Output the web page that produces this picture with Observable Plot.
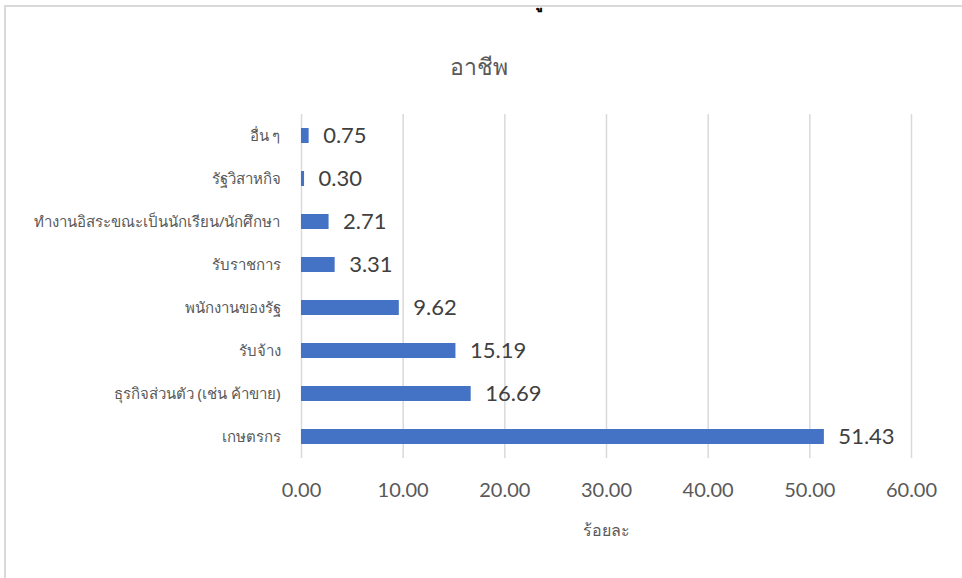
<!DOCTYPE html>
<html>
<head>
<meta charset="utf-8">
<script src="https://cdn.jsdelivr.net/npm/d3@7"></script>
<script src="https://cdn.jsdelivr.net/npm/@observablehq/plot@0.6"></script>
<style>
  html, body { margin: 0; padding: 0; background: #fff; }
  #wrap { position: relative; width: 962px; height: 578px; overflow: hidden; }
  #frame { position: absolute; left: 4px; top: 5px; width: 970px; height: 600px;
           border-left: 2px solid #d9d9d9; border-top: 2px solid #d9d9d9; }
  #glyph { position: absolute; left: 543px; top: -14px; font: bold 18px "Noto Sans", sans-serif; color: #000; }
  #chart { position: absolute; left: 0; top: 0; }
</style>
</head>
<body>
<div id="wrap">
  <div id="frame"></div>
  <div id="glyph">ู</div>
  <div id="chart"></div>
</div>
<script>
const title = "อาชีพ";
const xLabel = "ร้อยละ";
const categories = [
  "อื่น ๆ",
  "รัฐวิสาหกิจ",
  "ทำงานอิสระขณะเป็นนักเรียน/นักศึกษา",
  "รับราชการ",
  "พนักงานของรัฐ",
  "รับจ้าง",
  "ธุรกิจส่วนตัว (เช่น ค้าขาย)",
  "เกษตรกร"
];
const values = [0.75, 0.30, 2.71, 3.31, 9.62, 15.19, 16.69, 51.43];
const xTicks = [0, 10, 20, 30, 40, 50, 60];

const data = categories.map((c, i) => ({category: c, value: values[i]}));
const fmt = d3.format(".2f");

const chart = Plot.plot({
  width: 962,
  height: 578,
  marginLeft: 301,
  marginRight: 51,
  marginTop: 114,
  marginBottom: 120,
  style: {fontFamily: "'Noto Sans', 'DejaVu Sans', sans-serif", background: "transparent"},
  x: {domain: [0, 60], ticks: xTicks},
  y: {domain: categories, paddingInner: 0.64, paddingOuter: 0.32},
  marks: [
    Plot.gridX(xTicks, {stroke: "#d9d9d9", strokeOpacity: 1, strokeWidth: 1.5}),
    Plot.barX(data, {x: "value", y: "category", fill: "#4472c4"}),
    Plot.text(data, {x: "value", y: "category", text: d => fmt(d.value), textAnchor: "start", dx: 14, fontSize: 22, fill: "#404040", fontFamily: "Lato, 'Open Sans', sans-serif"}),
    Plot.axisX(xTicks, {tickSize: 0, tickPadding: 24, fontSize: 20, tickFormat: fmt, color: "#595959", fontFamily: "Lato, 'Open Sans', sans-serif", label: null}),
    Plot.axisY({tickSize: 0, tickPadding: 21, fontSize: 15, color: "#595959", label: null}),
    Plot.text([xLabel], {frameAnchor: "bottom", dy: 77, fontSize: 16, fill: "#595959"}),
    Plot.text([title], {frameAnchor: "top", dx: -128, dy: -56, fontSize: 23, fontWeight: 300, fill: "#595959"})
  ]
});
document.getElementById("chart").appendChild(chart);
</script>
</body>
</html>
